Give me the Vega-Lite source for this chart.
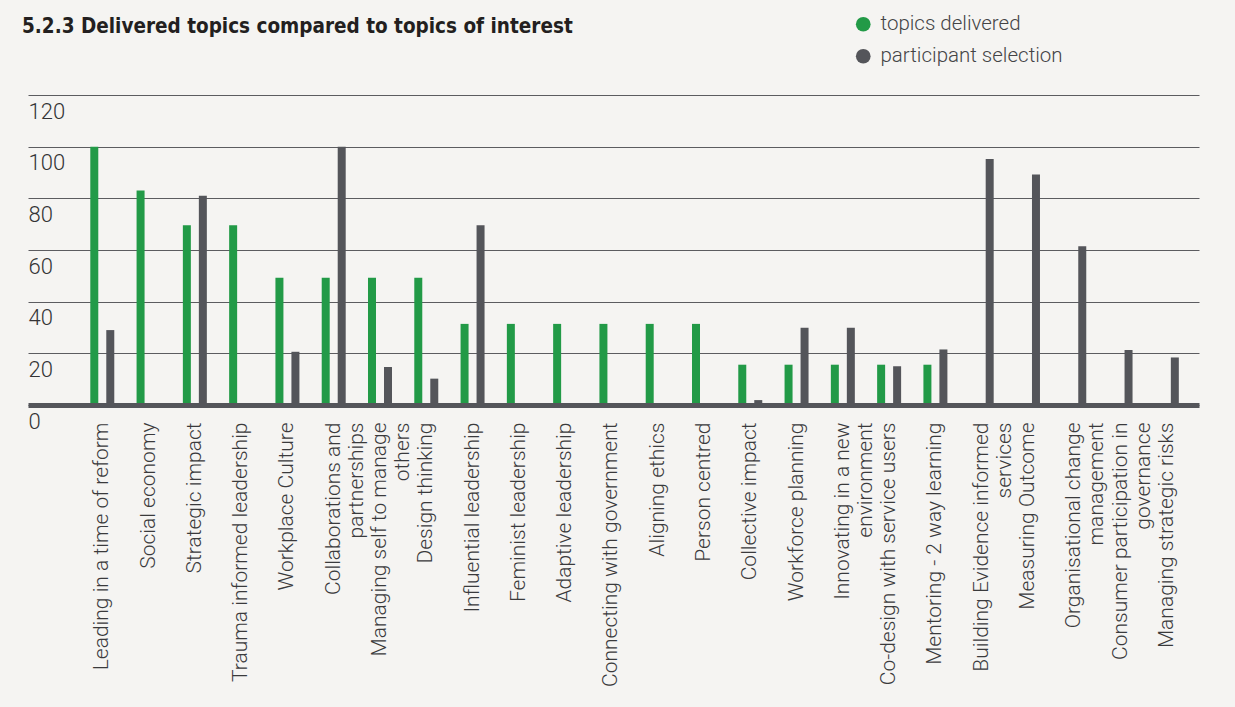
{
  "$schema": "https://vega.github.io/schema/vega-lite/v6.json",
  "width": 1171,
  "height": 310,
  "autosize": {"type": "none"},
  "padding": {"left": 28, "top": 95, "right": 36, "bottom": 302},
  "background": "#f5f4f2",
  "title": {
    "text": "5.2.3 Delivered topics compared to topics of interest",
    "anchor": "start",
    "frame": "group",
    "font": "Liberation Sans Narrow, DejaVu Sans Condensed, sans-serif",
    "fontWeight": "bold",
    "fontSize": 20.5,
    "color": "#231f20",
    "baseline": "alphabetic",
    "offset": 0,
    "dy": 39,
    "dx": -6
  },
  "data": {
    "values": [
      {"topic": "Leading in a time of reform", "series": "topics delivered", "value": 100},
      {"topic": "Leading in a time of reform", "series": "participant selection", "value": 29},
      {"topic": "Social economy", "series": "topics delivered", "value": 83},
      {"topic": "Social economy", "series": "participant selection", "value": 0},
      {"topic": "Strategic impact", "series": "topics delivered", "value": 69.6},
      {"topic": "Strategic impact", "series": "participant selection", "value": 81},
      {"topic": "Trauma informed leadership", "series": "topics delivered", "value": 69.6},
      {"topic": "Trauma informed leadership", "series": "participant selection", "value": 0},
      {"topic": "Workplace Culture", "series": "topics delivered", "value": 49.3},
      {"topic": "Workplace Culture", "series": "participant selection", "value": 20.6},
      {"topic": "Collaborations and\npartnerships", "series": "topics delivered", "value": 49.3},
      {"topic": "Collaborations and\npartnerships", "series": "participant selection", "value": 100},
      {"topic": "Managing self to manage\nothers", "series": "topics delivered", "value": 49.3},
      {"topic": "Managing self to manage\nothers", "series": "participant selection", "value": 14.7},
      {"topic": "Design thinking", "series": "topics delivered", "value": 49.3},
      {"topic": "Design thinking", "series": "participant selection", "value": 10.2},
      {"topic": "Influential leadership", "series": "topics delivered", "value": 31.4},
      {"topic": "Influential leadership", "series": "participant selection", "value": 69.6},
      {"topic": "Feminist leadership", "series": "topics delivered", "value": 31.4},
      {"topic": "Feminist leadership", "series": "participant selection", "value": 0},
      {"topic": "Adaptive leadership", "series": "topics delivered", "value": 31.4},
      {"topic": "Adaptive leadership", "series": "participant selection", "value": 0},
      {"topic": "Connecting with government", "series": "topics delivered", "value": 31.4},
      {"topic": "Connecting with government", "series": "participant selection", "value": 0},
      {"topic": "Aligning ethics", "series": "topics delivered", "value": 31.4},
      {"topic": "Aligning ethics", "series": "participant selection", "value": 0},
      {"topic": "Person centred", "series": "topics delivered", "value": 31.4},
      {"topic": "Person centred", "series": "participant selection", "value": 0},
      {"topic": "Collective impact", "series": "topics delivered", "value": 15.6},
      {"topic": "Collective impact", "series": "participant selection", "value": 1.9},
      {"topic": "Workforce planning", "series": "topics delivered", "value": 15.6},
      {"topic": "Workforce planning", "series": "participant selection", "value": 29.9},
      {"topic": "Innovating in a new\nenvironment", "series": "topics delivered", "value": 15.6},
      {"topic": "Innovating in a new\nenvironment", "series": "participant selection", "value": 29.9},
      {"topic": "Co-design with service users", "series": "topics delivered", "value": 15.6},
      {"topic": "Co-design with service users", "series": "participant selection", "value": 15},
      {"topic": "Mentoring - 2 way learning", "series": "topics delivered", "value": 15.6},
      {"topic": "Mentoring - 2 way learning", "series": "participant selection", "value": 21.5},
      {"topic": "Building Evidence informed\nservices", "series": "topics delivered", "value": 0},
      {"topic": "Building Evidence informed\nservices", "series": "participant selection", "value": 95.2},
      {"topic": "Measuring Outcome", "series": "topics delivered", "value": 0},
      {"topic": "Measuring Outcome", "series": "participant selection", "value": 89.2},
      {"topic": "Organisational change\nmanagement", "series": "topics delivered", "value": 0},
      {"topic": "Organisational change\nmanagement", "series": "participant selection", "value": 61.5},
      {"topic": "Consumer participation in\ngovernance", "series": "topics delivered", "value": 0},
      {"topic": "Consumer participation in\ngovernance", "series": "participant selection", "value": 21.3},
      {"topic": "Managing strategic risks", "series": "topics delivered", "value": 0},
      {"topic": "Managing strategic risks", "series": "participant selection", "value": 18.4}
    ]
  },
  "mark": {"type": "bar"},
  "encoding": {
    "x": {
      "field": "topic",
      "type": "nominal",
      "sort": null,
      "scale": {"paddingInner": 0, "paddingOuter": 0.65, "align": 0.85},
      "axis": {
        "title": null,
        "labelAngle": -90,
        "labelPadding": 17,
        "ticks": false,
        "domain": true,
        "domainColor": "#54555a",
        "domainWidth": 5,
        "labelFont": "Roboto",
        "labelFontWeight": 300,
        "labelFontSize": 21,
        "labelColor": "#3a3a3c",
        "labelLimit": 500,
        "labelLineHeight": 23,
        "labelExpr": "split(datum.value, '\\n')",
        "zindex": 1
      }
    },
    "xOffset": {
      "field": "series",
      "type": "nominal",
      "sort": ["topics delivered", "participant selection"],
      "scale": {"paddingInner": 0.5, "paddingOuter": 0.697}
    },
    "y": {
      "field": "value",
      "type": "quantitative",
      "scale": {"domain": [0, 120]},
      "axis": {
        "title": null,
        "values": [0, 20, 40, 60, 80, 100, 120],
        "grid": true,
        "gridColor": "#5c5c60",
        "gridWidth": 1,
        "gridOpacity": 1,
        "domain": false,
        "ticks": false,
        "labelAlign": "left",
        "labelPadding": 0,
        "labelOffset": 16,
        "labelBaseline": "middle",
        "labelFont": "Roboto",
        "labelFontWeight": 300,
        "labelFontSize": 22,
        "labelColor": "#333335",
        "zindex": 0
      }
    },
    "color": {
      "field": "series",
      "type": "nominal",
      "scale": {
        "domain": ["topics delivered", "participant selection"],
        "range": ["#229a47", "#54555a"]
      },
      "legend": {
        "title": null,
        "orient": "none",
        "legendX": 825,
        "legendY": -81,
        "symbolType": "circle",
        "symbolSize": 216,
        "symbolStrokeWidth": 0,
        "symbolOpacity": 1,
        "labelFont": "Roboto",
        "labelFontWeight": 300,
        "labelFontSize": 20.5,
        "labelColor": "#444446",
        "labelOffset": 7,
        "labelLimit": 400,
        "rowPadding": 11
      }
    }
  },
  "config": {"view": {"stroke": null}}
}
